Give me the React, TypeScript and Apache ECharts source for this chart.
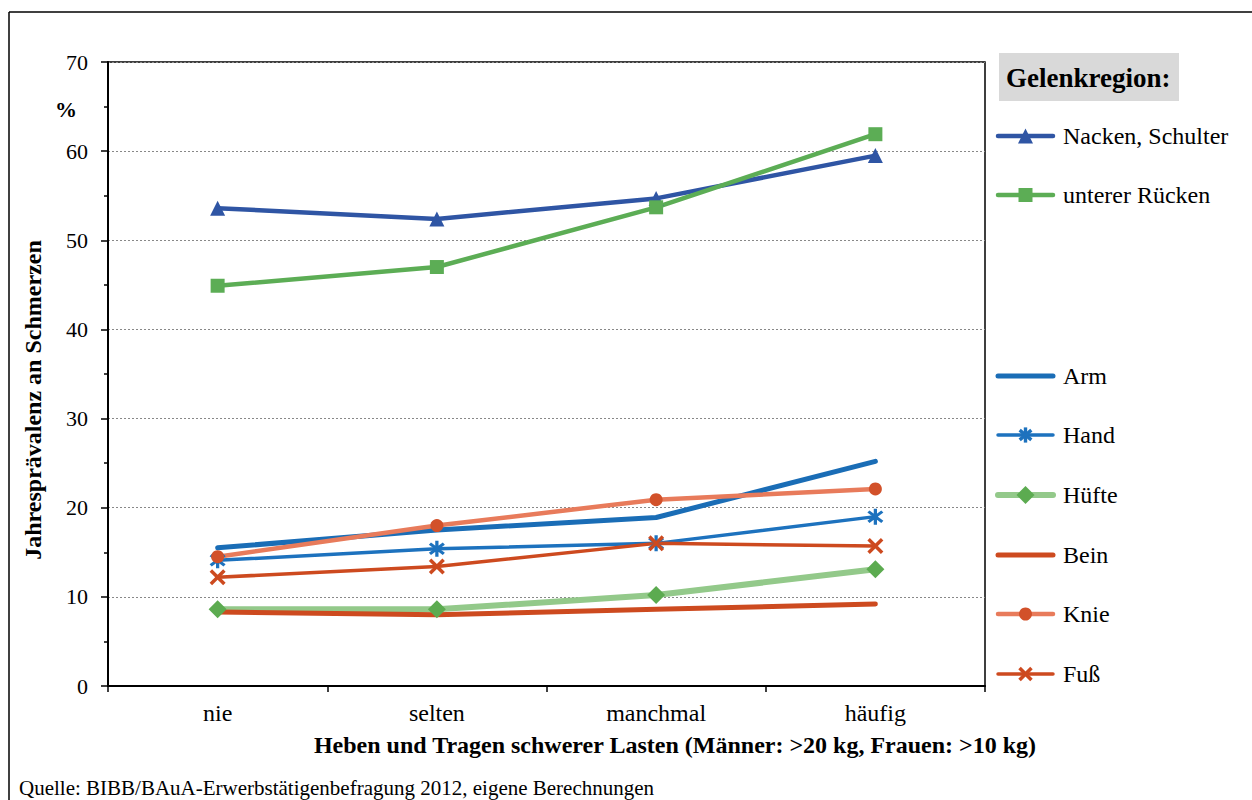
import React, { useEffect, useRef } from "react";
import * as echarts from "echarts";

const categories = ["nie", "selten", "manchmal", "häufig"];
const yTicks = [0, 10, 20, 30, 40, 50, 60, 70];
const nacken = [53.6, 52.4, 54.7, 59.5];
const ruecken = [44.9, 47.0, 53.7, 61.9];
const arm = [15.5, 17.5, 18.9, 25.2];
const hand = [14.1, 15.4, 16.0, 19.0];
const huefte = [8.6, 8.6, 10.2, 13.1];
const bein = [8.3, 8.0, 8.6, 9.2];
const knie = [14.5, 18.0, 20.9, 22.1];
const fuss = [12.2, 13.4, 16.0, 15.7];

const FONT = "Liberation Serif";

function barPts(cx: number, cy: number, len: number, t: number, ang: number): number[][] {
  const a = (ang * Math.PI) / 180;
  const dx = Math.cos(a), dy = Math.sin(a);
  const nx = -dy, ny = dx;
  return [
    [cx + (dx * len) / 2 + (nx * t) / 2, cy + (dy * len) / 2 + (ny * t) / 2],
    [cx - (dx * len) / 2 + (nx * t) / 2, cy - (dy * len) / 2 + (ny * t) / 2],
    [cx - (dx * len) / 2 - (nx * t) / 2, cy - (dy * len) / 2 - (ny * t) / 2],
    [cx + (dx * len) / 2 - (nx * t) / 2, cy + (dy * len) / 2 - (ny * t) / 2],
  ];
}
function bar(cx: number, cy: number, len: number, t: number, ang: number): string {
  return "M" + barPts(cx, cy, len, t, ang).map((p) => p[0].toFixed(2) + " " + p[1].toFixed(2)).join(" L") + " Z";
}

const CROSS_ANGLES = [45, 135];
const STAR_ANGLES = [90, 40, 140];
const crossPath = "path://" + CROSS_ANGLES.map((a) => bar(10, 10, 22, 4, a)).join(" ");
const starPath = "path://" + STAR_ANGLES.map((a) => bar(10, 10, 20, 3.6, a)).join(" ");

type Entry = {
  name: string;
  data: number[];
  line: string;
  marker: string;
  width: number;
  kind: string;
  size: number;
  legendY: number;
};

const entries: Entry[] = [
  { name: "Nacken, Schulter", data: nacken, line: "#2F55A4", marker: "#2F55A4", width: 4.5, kind: "triangle", size: 15, legendY: 136 },
  { name: "unterer Rücken", data: ruecken, line: "#5CAD55", marker: "#5CAD55", width: 4.5, kind: "rect", size: 14, legendY: 195 },
  { name: "Arm", data: arm, line: "#1A6DB6", marker: "#1A6DB6", width: 5, kind: "none", size: 0, legendY: 376 },
  { name: "Hand", data: hand, line: "#1D72BE", marker: "#1D72BE", width: 3.5, kind: "star", size: 16, legendY: 435 },
  { name: "Hüfte", data: huefte, line: "#93C98A", marker: "#5CAB50", width: 6, kind: "diamond", size: 18, legendY: 495 },
  { name: "Bein", data: bein, line: "#CD4A1F", marker: "#CD4A1F", width: 5, kind: "none", size: 0, legendY: 555 },
  { name: "Knie", data: knie, line: "#E87B5B", marker: "#D2512A", width: 4.5, kind: "circle", size: 13, legendY: 614 },
  { name: "Fuß", data: fuss, line: "#CD4A1F", marker: "#CD4A1F", width: 3.5, kind: "cross", size: 16, legendY: 674 },
];

function symbolOf(kind: string): string {
  if (kind === "star") return starPath;
  if (kind === "cross") return crossPath;
  return kind;
}

function legendMarker(e: Entry, cx: number, cy: number): any[] {
  const s = e.size;
  const h = s / 2;
  const st = { fill: e.marker };
  switch (e.kind) {
    case "triangle":
      return [{ type: "polygon", shape: { points: [[cx, cy - h], [cx + h, cy + h], [cx - h, cy + h]] }, style: st }];
    case "rect":
      return [{ type: "rect", shape: { x: cx - h, y: cy - h, width: s, height: s }, style: st }];
    case "diamond":
      return [{ type: "polygon", shape: { points: [[cx, cy - h], [cx + h, cy], [cx, cy + h], [cx - h, cy]] }, style: st }];
    case "circle":
      return [{ type: "circle", shape: { cx, cy, r: h }, style: st }];
    case "star":
      return STAR_ANGLES.map((a) => ({ type: "polygon", shape: { points: barPts(cx, cy, s * 0.95, 3.4, a) }, style: st }));
    case "cross":
      return CROSS_ANGLES.map((a) => ({ type: "polygon", shape: { points: barPts(cx, cy, s * 1.05, 3.6, a) }, style: st }));
    default:
      return [];
  }
}

export default function App() {
  const ref = useRef<HTMLDivElement>(null);
  useEffect(() => {
    if (!ref.current) return;
    const chart = echarts.init(ref.current, null, { renderer: "svg" });

    const legendGraphics: any[] = [];
    entries.forEach((e) => {
      legendGraphics.push({
        type: "line",
        shape: { x1: 998, y1: e.legendY, x2: 1053, y2: e.legendY },
        style: { stroke: e.line, lineWidth: e.width, lineCap: "round" },
      });
      legendMarker(e, 1025.5, e.legendY).forEach((g) => legendGraphics.push(g));
      legendGraphics.push({
        type: "text",
        x: 1063,
        y: e.legendY,
        style: { text: e.name, fill: "#000", font: `24px "${FONT}"`, verticalAlign: "middle", align: "left" },
      });
    });

    chart.setOption({
      animation: false,
      backgroundColor: "#fff",
      textStyle: { fontFamily: FONT },
      grid: {
        left: 108,
        top: 62,
        width: 877,
        height: 624,
        show: true,
        borderColor: "#000",
        borderWidth: 1.5,
        containLabel: false,
      },
      xAxis: {
        type: "category",
        data: categories,
        boundaryGap: true,
        axisLine: { lineStyle: { color: "#000", width: 2 } },
        axisTick: { show: true, interval: 0, length: 6, lineStyle: { color: "#000", width: 1.5 } },
        axisLabel: { color: "#000", fontSize: 24, fontFamily: FONT, margin: 15 },
        splitLine: { show: false },
      },
      yAxis: {
        type: "value",
        min: yTicks[0],
        max: yTicks[yTicks.length - 1],
        interval: 10,
        axisLine: { show: true, lineStyle: { color: "#000", width: 2 } },
        axisTick: { show: true, length: 7, lineStyle: { color: "#000", width: 1.5 } },
        minorTick: { show: true, splitNumber: 2, length: 4, lineStyle: { color: "#000", width: 1.5 } },
        axisLabel: { color: "#000", fontSize: 22, fontFamily: FONT, margin: 20 },
        splitLine: { show: true, lineStyle: { color: "#888", width: 1, type: [2, 2] } },
      },
      series: entries.map((e) => ({
        name: e.name,
        type: "line",
        data: e.data,
        symbol: symbolOf(e.kind),
        symbolSize: e.size,
        showSymbol: e.kind !== "none",
        lineStyle: { color: e.line, width: e.width, cap: "round", join: "round" },
        itemStyle: { color: e.marker },
        emphasis: { disabled: true },
      })),
      graphic: [
        { type: "line", shape: { x1: 9, y1: 12, x2: 9, y2: 800 }, style: { stroke: "#000", lineWidth: 1.5 } },
        { type: "line", shape: { x1: 9, y1: 12, x2: 1252, y2: 12 }, style: { stroke: "#000", lineWidth: 1.5 } },
        { type: "rect", shape: { x: 999, y: 53, width: 180, height: 48 }, style: { fill: "#D9D9D9" } },
        {
          type: "text",
          x: 1006,
          y: 78,
          style: { text: "Gelenkregion:", fill: "#000", font: `bold 27px "${FONT}"`, verticalAlign: "middle", align: "left" },
        },
        {
          type: "text",
          x: 66,
          y: 109,
          style: { text: "%", fill: "#000", font: `bold 22px "${FONT}"`, verticalAlign: "middle", align: "center" },
        },
        {
          type: "text",
          x: 33,
          y: 400,
          rotation: Math.PI / 2,
          style: {
            text: "Jahresprävalenz an Schmerzen",
            fill: "#000",
            font: `bold 24px "${FONT}"`,
            verticalAlign: "middle",
            align: "center",
          },
        },
        {
          type: "text",
          x: 675,
          y: 745,
          style: {
            text: "Heben und Tragen schwerer Lasten (Männer: >20 kg, Frauen: >10 kg)",
            fill: "#000",
            font: `bold 24px "${FONT}"`,
            verticalAlign: "middle",
            align: "center",
          },
        },
        {
          type: "text",
          x: 19,
          y: 788,
          style: {
            text: "Quelle: BIBB/BAuA-Erwerbstätigenbefragung 2012, eigene Berechnungen",
            fill: "#000",
            font: `21px "${FONT}"`,
            verticalAlign: "middle",
            align: "left",
          },
        },
        ...legendGraphics,
      ],
    });
    return () => chart.dispose();
  }, []);
  return <div ref={ref} style={{ position: "fixed", left: 0, top: 0, width: 1252, height: 800 }} />;
}
